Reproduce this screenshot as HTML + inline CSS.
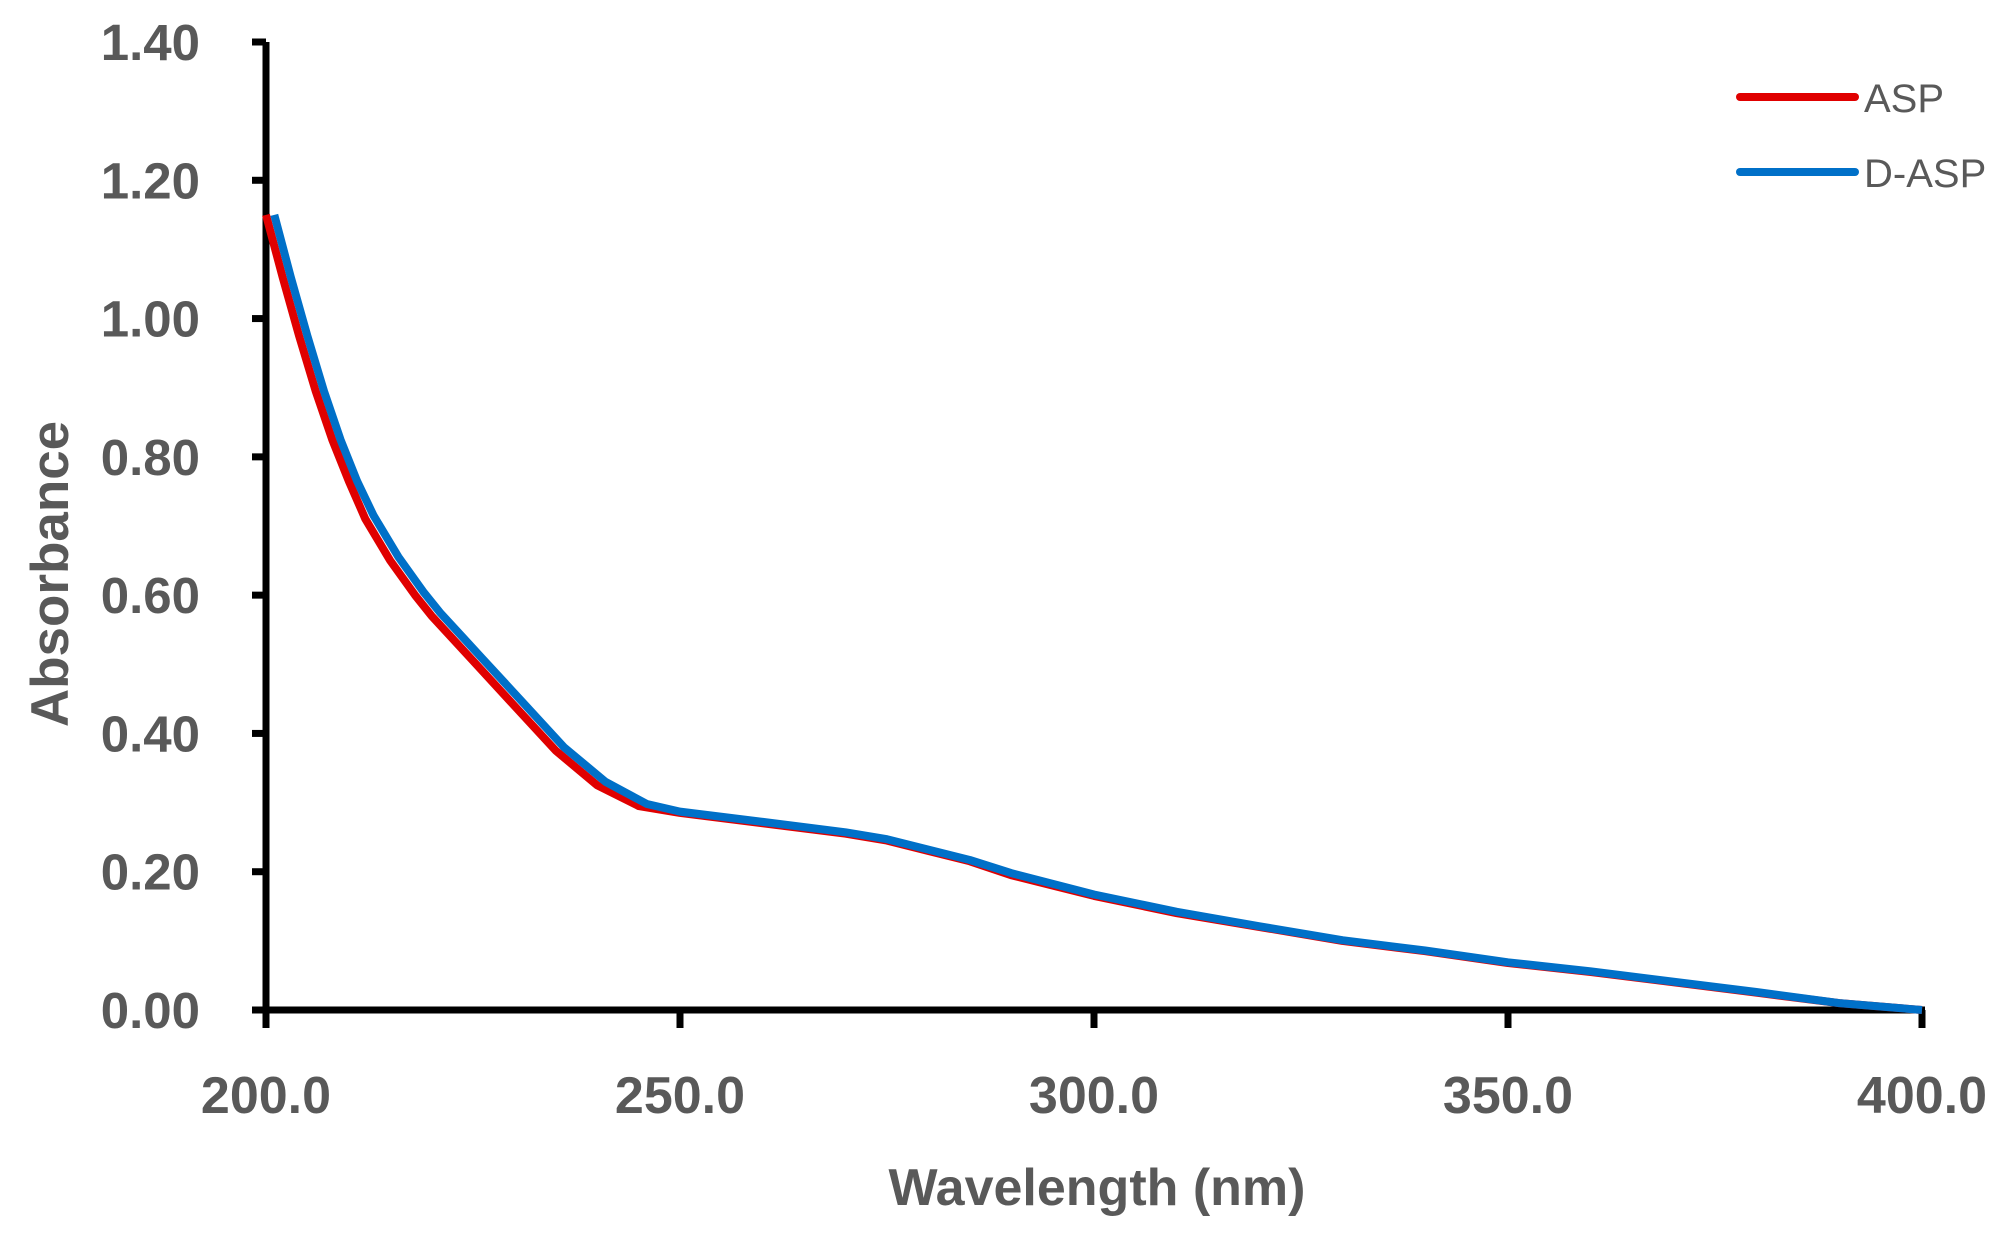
<!DOCTYPE html>
<html><head><meta charset="utf-8"><style>
html,body{margin:0;padding:0;background:#fff}
svg text{font-family:"Liberation Sans",sans-serif;fill:#595959}
</style></head><body>
<svg width="2008" height="1244" viewBox="0 0 2008 1244">
<g id="axes"></g>
<g id="series"></g>
<g>
<line x1="1740" y1="97" x2="1855" y2="97" stroke="#e00000" stroke-width="8" stroke-linecap="round"/>
<text x="1864" y="112" font-size="40">ASP</text>
<line x1="1740" y1="172" x2="1855" y2="172" stroke="#0070c8" stroke-width="8" stroke-linecap="round"/>
<text x="1864" y="187" font-size="40">D-ASP</text>
</g>
<text x="1097" y="1205" font-size="52" font-weight="bold" text-anchor="middle">Wavelength (nm)</text>
<text transform="translate(68,574) rotate(-90)" font-size="53" font-weight="bold" text-anchor="middle">Absorbance</text>
</svg>
<script>
const xTicks=[200,250,300,350,400];
const xTickLabels=["200.0","250.0","300.0","350.0","400.0"];
const yTicks=[0,0.2,0.4,0.6,0.8,1.0,1.2,1.4];
const yTickLabels=["0.00","0.20","0.40","0.60","0.80","1.00","1.20","1.40"];
const aspX=[200,202,204,206,208,210,212,215,218,220,225,230,235,240,245,250,260,270,275,280,285,290,300,310,320,330,340,350,360,370,380,390,400];
const aspY=[1.15,1.06,0.975,0.895,0.825,0.765,0.71,0.65,0.60,0.57,0.505,0.44,0.375,0.325,0.295,0.285,0.27,0.255,0.245,0.23,0.215,0.195,0.165,0.14,0.12,0.10,0.085,0.068,0.055,0.04,0.025,0.01,0.0];
const daspX=[201,203,205,207,209,211,213,216,219,221,226,231,236,241,246,250,260,270,275,280,285,290,300,310,320,330,340,350,360,370,380,390,400];
const daspY=[1.15,1.06,0.975,0.895,0.825,0.765,0.715,0.655,0.605,0.575,0.51,0.445,0.38,0.33,0.298,0.287,0.272,0.257,0.247,0.232,0.217,0.198,0.167,0.142,0.121,0.101,0.086,0.069,0.056,0.041,0.026,0.01,0.0];
const X=v=>266+(v-200)*(1922-266)/200;
const Y=v=>1010-v*(1010-42)/1.4;
const NS="http://www.w3.org/2000/svg";
const axes=document.getElementById('axes'), ser=document.getElementById('series');
function mk(tag,attrs,parent){const e=document.createElementNS(NS,tag);for(const k in attrs)e.setAttribute(k,attrs[k]);parent.appendChild(e);return e;}
let yl=mk('line',{x1:266,y1:42,x2:266,y2:1010,stroke:'#000','stroke-width':7},axes);


let xl=mk('line',{x1:263,y1:1010,x2:1925,y2:1010,stroke:'#000','stroke-width':7},axes);


yTicks.forEach((v,i)=>{
 let t=mk('line',{x1:252,y1:Y(v),x2:266,y2:Y(v),stroke:'#000','stroke-width':7},axes);
 
 
 let l=mk('text',{x:200,y:Y(v)+18,'font-size':51,'font-weight':'bold','text-anchor':'end'},axes);
 l.textContent=yTickLabels[i];
 
 
});
xTicks.forEach((v,i)=>{
 let t=mk('line',{x1:X(v),y1:1010,x2:X(v),y2:1028,stroke:'#000','stroke-width':7},axes);
 
 
 let l=mk('text',{x:X(v),y:1113,'font-size':52,'font-weight':'bold','text-anchor':'middle'},axes);
 l.textContent=xTickLabels[i];
 
 
});
function path(xs,ys){return xs.map((x,i)=>(i?'L':'M')+X(x).toFixed(1)+' '+Y(ys[i]).toFixed(1)).join(' ');}
let p1=mk('path',{d:path(aspX,aspY),fill:'none',stroke:'#e00000','stroke-width':8,'stroke-linejoin':'round'},ser);


let p2=mk('path',{d:path(daspX,daspY),fill:'none',stroke:'#0070c8','stroke-width':8,'stroke-linejoin':'round'},ser);


</script>
</body></html>
